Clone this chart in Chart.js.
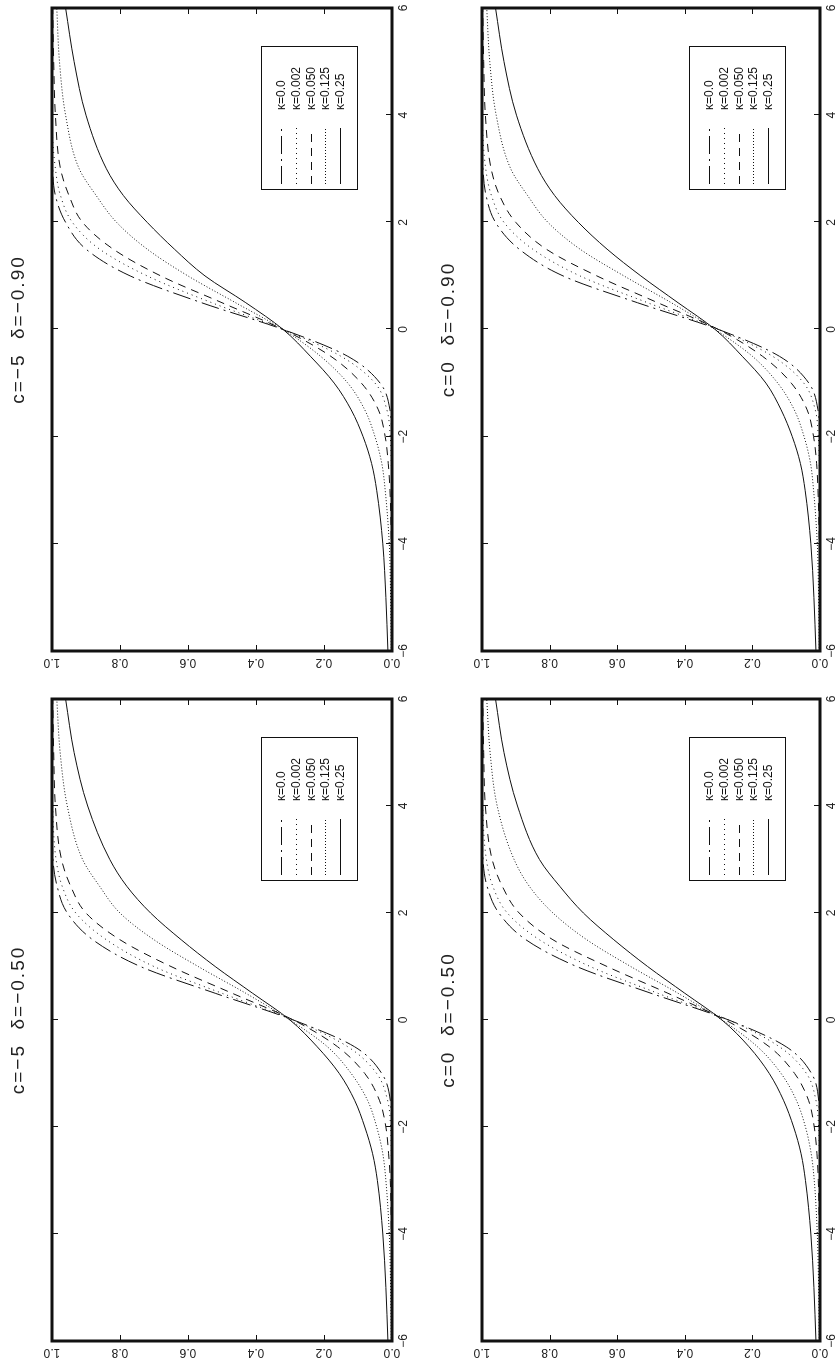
<!DOCTYPE html>
<html>
<head>
<meta charset="utf-8">
<script src="https://cdn.jsdelivr.net/npm/chart.js@4"></script>
<style>
html, body { margin: 0; padding: 0; background: #fff; overflow: hidden; }
/* the figure is drawn landscape and turned a quarter turn, like the scanned page */
#page { position: absolute; left: 0; top: 0; width: 1365px; height: 840px; background: #fff;
        transform-origin: 0 0; transform: translateY(1365px) rotate(-90deg); }
#page canvas { position: absolute; }
</style>
</head>
<body>
<div id="page">
	<canvas id="p1" width="690" height="430" style="left:0px;top:0px"></canvas>
	<canvas id="p2" width="675" height="430" style="left:690px;top:0px"></canvas>
	<canvas id="p3" width="690" height="410" style="left:0px;top:430px"></canvas>
	<canvas id="p4" width="675" height="410" style="left:690px;top:430px"></canvas>
</div>
<script>
// x positions where the curves were read
let xGrid = [-6, -5, -4, -3, -2.5, -2, -1.5, -1, -0.5, 0, 0.5, 1, 1.5, 2, 2.5, 3, 4, 5, 6]
let xTicks = [-6, -4, -2, 0, 2, 4, 6]
let yTicks = [0, 0.2, 0.4, 0.6, 0.8, 1.0]
let kappaLabels = ["κ=0.0", "κ=0.002", "κ=0.050", "κ=0.125", "κ=0.25"]

// c=-5, delta=-0.50
let c5d50_k0   = [0, 0, 0, 0, 0, 0.001, 0.005, 0.03, 0.11, 0.29, 0.52, 0.74, 0.88, 0.955, 0.985, 0.997, 1, 1, 1]
let c5d50_k002 = [0, 0, 0, 0.001, 0.002, 0.004, 0.013, 0.045, 0.13, 0.29, 0.5, 0.7, 0.84, 0.93, 0.97, 0.988, 0.998, 1, 1]
let c5d50_k050 = [0, 0.001, 0.002, 0.005, 0.01, 0.018, 0.037, 0.08, 0.16, 0.29, 0.47, 0.65, 0.8, 0.9, 0.945, 0.972, 0.99, 0.995, 0.998]
let c5d50_k125 = [0.002, 0.004, 0.008, 0.018, 0.027, 0.045, 0.072, 0.12, 0.19, 0.3, 0.43, 0.57, 0.7, 0.8, 0.86, 0.91, 0.955, 0.976, 0.986]
let c5d50_k25  = [0.012, 0.018, 0.027, 0.043, 0.057, 0.08, 0.11, 0.155, 0.22, 0.3, 0.41, 0.52, 0.62, 0.71, 0.78, 0.83, 0.895, 0.935, 0.96]

// c=-5, delta=-0.90
let c5d90_k0   = [0, 0, 0, 0, 0, 0.001, 0.006, 0.035, 0.13, 0.32, 0.56, 0.77, 0.9, 0.96, 0.99, 0.998, 1, 1, 1]
let c5d90_k002 = [0, 0, 0, 0.001, 0.002, 0.005, 0.015, 0.05, 0.15, 0.32, 0.53, 0.72, 0.86, 0.94, 0.975, 0.99, 1, 1, 1]
let c5d90_k050 = [0, 0.001, 0.002, 0.006, 0.011, 0.02, 0.04, 0.09, 0.18, 0.32, 0.5, 0.68, 0.82, 0.91, 0.95, 0.975, 0.99, 0.995, 0.998]
let c5d90_k125 = [0.002, 0.004, 0.008, 0.02, 0.03, 0.05, 0.08, 0.13, 0.21, 0.32, 0.46, 0.6, 0.72, 0.81, 0.87, 0.92, 0.96, 0.978, 0.986]
let c5d90_k25  = [0.012, 0.018, 0.027, 0.045, 0.06, 0.085, 0.12, 0.17, 0.24, 0.32, 0.43, 0.55, 0.64, 0.72, 0.79, 0.84, 0.9, 0.935, 0.96]

// c=0, delta=-0.50
let c0d50_k0   = [0, 0, 0, 0, 0, 0.001, 0.004, 0.025, 0.1, 0.27, 0.5, 0.72, 0.87, 0.95, 0.985, 0.997, 1, 1, 1]
let c0d50_k002 = [0, 0, 0, 0.001, 0.002, 0.004, 0.012, 0.04, 0.12, 0.27, 0.48, 0.68, 0.83, 0.925, 0.968, 0.987, 0.998, 1, 1]
let c0d50_k050 = [0, 0.001, 0.002, 0.005, 0.009, 0.017, 0.034, 0.075, 0.15, 0.28, 0.45, 0.63, 0.79, 0.89, 0.94, 0.97, 0.99, 0.995, 0.998]
let c0d50_k125 = [0.002, 0.004, 0.008, 0.017, 0.026, 0.043, 0.07, 0.115, 0.185, 0.29, 0.42, 0.56, 0.69, 0.79, 0.86, 0.905, 0.955, 0.976, 0.986]
let c0d50_k25  = [0.012, 0.018, 0.027, 0.043, 0.056, 0.078, 0.108, 0.15, 0.21, 0.29, 0.4, 0.51, 0.61, 0.7, 0.77, 0.83, 0.895, 0.935, 0.96]

// c=0, delta=-0.90
let c0d90_k0   = [0, 0, 0, 0, 0, 0.001, 0.006, 0.033, 0.12, 0.3, 0.54, 0.76, 0.89, 0.96, 0.988, 0.997, 1, 1, 1]
let c0d90_k002 = [0, 0, 0, 0.001, 0.002, 0.005, 0.014, 0.048, 0.14, 0.3, 0.51, 0.71, 0.85, 0.935, 0.972, 0.989, 0.999, 1, 1]
let c0d90_k050 = [0, 0.001, 0.002, 0.006, 0.01, 0.019, 0.038, 0.085, 0.17, 0.3, 0.48, 0.66, 0.81, 0.9, 0.948, 0.973, 0.99, 0.995, 0.998]
let c0d90_k125 = [0.002, 0.004, 0.008, 0.019, 0.028, 0.047, 0.076, 0.125, 0.2, 0.31, 0.44, 0.58, 0.71, 0.805, 0.865, 0.915, 0.958, 0.977, 0.986]
let c0d90_k25  = [0.012, 0.018, 0.027, 0.044, 0.058, 0.082, 0.115, 0.16, 0.23, 0.31, 0.42, 0.53, 0.63, 0.715, 0.785, 0.835, 0.898, 0.935, 0.96]

// line style of each kappa
let kappaDash = [[18, 5, 2, 5], [1, 4], [8, 6], [1, 2], []]

let panels = [
	{id: "p1", title: "c=−5  δ=−0.50", series: [c5d50_k0, c5d50_k002, c5d50_k050, c5d50_k125, c5d50_k25], padding: {left: 0, right: 24, top: 52, bottom: 18}},
	{id: "p2", title: "c=−5  δ=−0.90", series: [c5d90_k0, c5d90_k002, c5d90_k050, c5d90_k125, c5d90_k25], padding: {left: 0, right: 8, top: 52, bottom: 18}},
	{id: "p3", title: "c=0  δ=−0.50", series: [c0d50_k0, c0d50_k002, c0d50_k050, c0d50_k125, c0d50_k25], padding: {left: 0, right: 24, top: 52, bottom: 0}},
	{id: "p4", title: "c=0  δ=−0.90", series: [c0d90_k0, c0d90_k002, c0d90_k050, c0d90_k125, c0d90_k25], padding: {left: 0, right: 8, top: 52, bottom: 0}},
]

let font = "'Liberation Sans', Arial, sans-serif"

// Frame with ticks pointing inwards on all four sides
let framePlugin = {
	id: "frame",
	afterDatasetsDraw(chart) {
		let ctx = chart.ctx
		let a = chart.chartArea
		let sx = chart.scales.x
		let sy = chart.scales.y
		ctx.save()
		ctx.strokeStyle = "#111"
		ctx.lineWidth = 1
		ctx.beginPath()
		xTicks.forEach(v => {
			let px = Math.round(sx.getPixelForValue(v)) + 0.5
			ctx.moveTo(px, a.bottom); ctx.lineTo(px, a.bottom - 6)
			ctx.moveTo(px, a.top); ctx.lineTo(px, a.top + 6)
		})
		yTicks.forEach(v => {
			let py = Math.round(sy.getPixelForValue(v)) + 0.5
			ctx.moveTo(a.left, py); ctx.lineTo(a.left + 6, py)
			ctx.moveTo(a.right, py); ctx.lineTo(a.right - 6, py)
		})
		ctx.stroke()
		ctx.lineWidth = 3
		ctx.strokeRect(a.left, a.top, a.right - a.left, a.bottom - a.top)
		ctx.restore()
	}
}

// Title above the frame, thin and widely spaced
let titlePlugin = {
	id: "panelTitle",
	afterDraw(chart, args, opts) {
		let ctx = chart.ctx
		let a = chart.chartArea
		ctx.save()
		ctx.fillStyle = "#222"
		ctx.font = "19px " + font
		ctx.letterSpacing = "2px"
		ctx.textAlign = "center"
		ctx.textBaseline = "middle"
		ctx.fillText(opts.text, (a.left + a.right) / 2, a.top - 33)
		ctx.restore()
	}
}

// Legend box in the lower right corner of the frame
let legendPlugin = {
	id: "kappaLegend",
	afterDatasetsDraw(chart) {
		let ctx = chart.ctx
		let a = chart.chartArea
		let bw = 143, bh = 96
		let bx = a.right - 182
		let by = a.bottom - 35 - bh
		ctx.save()
		ctx.fillStyle = "#fff"
		ctx.fillRect(bx, by, bw, bh)
		ctx.strokeStyle = "#111"
		ctx.lineWidth = 1
		ctx.strokeRect(bx + 0.5, by + 0.5, bw, bh)
		ctx.font = "12px " + font
		ctx.fillStyle = "#111"
		ctx.textBaseline = "middle"
		chart.data.datasets.forEach((ds, i) => {
			let y = Math.round(by + 20 + i * 14.8) + 0.5
			ctx.setLineDash(ds.borderDash)
			ctx.beginPath()
			ctx.moveTo(bx + 6, y)
			ctx.lineTo(bx + 62, y)
			ctx.stroke()
			ctx.setLineDash([])
			ctx.fillText(ds.label, bx + 80, y)
		})
		ctx.restore()
	}
}

function makeChart(panel) {
	let datasets = panel.series.map((values, i) => {
		return {
			label: kappaLabels[i],
			data: xGrid.map((x, j) => ({x: x, y: values[j]})),
			borderColor: "#111",
			borderWidth: 1,
			borderDash: kappaDash[i],
			pointRadius: 0,
			fill: false,
			cubicInterpolationMode: "monotone",
		}
	})

	let config = {
		type: "line",
		data: {datasets: datasets},
		options: {
			responsive: false,
			animation: false,
			devicePixelRatio: 1,
			layout: {padding: panel.padding},
			plugins: {
				legend: {display: false},
				tooltip: {enabled: false},
				panelTitle: {text: panel.title},
			},
			scales: {
				x: {
					type: "linear",
					min: -6,
					max: 6,
					grid: {display: false, drawTicks: false},
					border: {display: false},
					afterFit: s => { s.height = 20 },
					ticks: {
						stepSize: 2,
						padding: 4,
						color: "#222",
						font: {size: 12, family: font},
						callback: v => String(v).replace("-", "−"),
					},
				},
				y: {
					type: "linear",
					min: 0,
					max: 1,
					grid: {display: false, drawTicks: false},
					border: {display: false},
					afterFit: s => { s.width = 24 },
					ticks: {
						stepSize: 0.2,
						padding: 3,
						minRotation: 90,
						maxRotation: 90,
						crossAlign: "center",
						color: "#222",
						font: {size: 12, family: font},
						callback: v => v.toFixed(1),
					},
				},
			},
		},
		plugins: [framePlugin, legendPlugin, titlePlugin],
	}
	return new Chart(document.getElementById(panel.id), config)
}

panels.forEach(makeChart)
</script>
</body>
</html>
